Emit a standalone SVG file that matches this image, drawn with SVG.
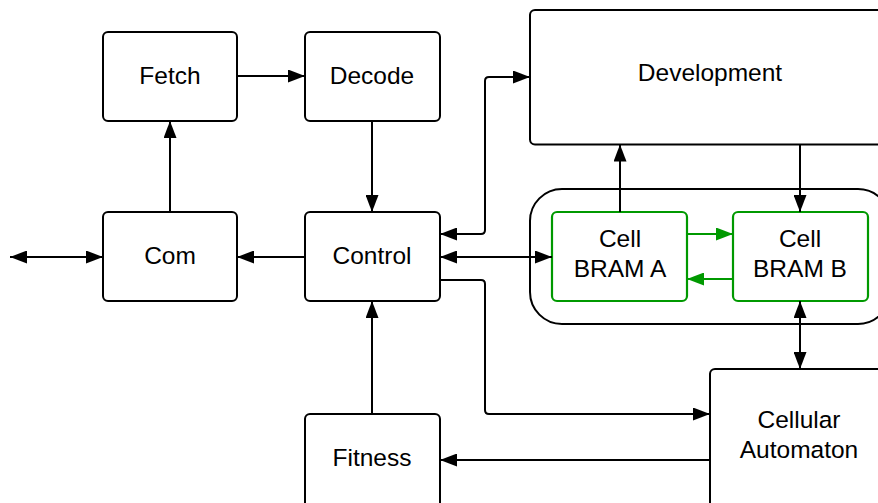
<svg xmlns="http://www.w3.org/2000/svg" width="878" height="503" viewBox="0 0 878 503">
  <defs>
    <marker id="arrow" viewBox="0 0 17 13" refX="17" refY="6.5" markerWidth="17" markerHeight="13" markerUnits="userSpaceOnUse" orient="auto-start-reverse">
      <path d="M0,0 L17,6.5 L0,13 z" fill="#000"/>
    </marker>
    <marker id="arrow-green" viewBox="0 0 17 13" refX="17" refY="6.5" markerWidth="17" markerHeight="13" markerUnits="userSpaceOnUse" orient="auto-start-reverse">
      <path d="M0,0 L17,6.5 L0,13 z" fill="#009900"/>
    </marker>
  </defs>
  <style>
    .box { fill: #fff; stroke: #000; stroke-width: 2; }
    .gbox { fill: #fff; stroke: #009900; stroke-width: 2.2; }
    .label { font-family: "Liberation Sans", Arial, sans-serif; font-size: 24.5px; fill: #000; text-anchor: middle; dominant-baseline: central; }
    .wire { fill: none; stroke: #000; stroke-width: 2; }
    .gwire { fill: none; stroke: #009900; stroke-width: 2; }
  </style>
  <rect width="878" height="503" fill="#fff"/>

  <!-- grouping frame around the two cell memories -->
  <g id="cell-memory-frame">
    <rect class="box" x="530" y="189" width="360" height="135" rx="32"/>
  </g>

  <g id="fetch">
    <rect class="box" x="103" y="32" width="134" height="89" rx="5"/>
    <text class="label" x="170" y="75">Fetch</text>
  </g>
  <g id="decode">
    <rect class="box" x="305" y="32" width="135" height="89" rx="5"/>
    <text class="label" x="372" y="75">Decode</text>
  </g>
  <g id="development">
    <rect class="box" x="530" y="10" width="360" height="134.5" rx="5"/>
    <text class="label" x="710" y="72">Development</text>
  </g>
  <g id="com">
    <rect class="box" x="103" y="212" width="134" height="89" rx="5"/>
    <text class="label" x="170" y="255">Com</text>
  </g>
  <g id="control">
    <rect class="box" x="305" y="212" width="135" height="89" rx="5"/>
    <text class="label" x="372" y="255">Control</text>
  </g>
  <g id="cell-bram-a">
    <rect class="gbox" x="552" y="212" width="135" height="89" rx="5"/>
    <text class="label" x="620" y="238">Cell</text>
    <text class="label" x="620" y="268">BRAM A</text>
  </g>
  <g id="cell-bram-b">
    <rect class="gbox" x="733" y="212" width="135" height="89" rx="5"/>
    <text class="label" x="800" y="238">Cell</text>
    <text class="label" x="800" y="268">BRAM B</text>
  </g>
  <g id="cellular-automaton">
    <rect class="box" x="710" y="369" width="180" height="150" rx="5"/>
    <text class="label" x="799" y="419">Cellular</text>
    <text class="label" x="799" y="449">Automaton</text>
  </g>
  <g id="fitness">
    <rect class="box" x="305" y="414" width="135" height="100" rx="5"/>
    <text class="label" x="372" y="457">Fitness</text>
  </g>

  <g id="connectors">
    <path class="wire" d="M237,76 H305" marker-end="url(#arrow)"/>
    <path class="wire" d="M170,212 V121" marker-end="url(#arrow)"/>
    <path class="wire" d="M372,121 V212" marker-end="url(#arrow)"/>
    <path class="wire" d="M305,257 H237" marker-end="url(#arrow)"/>
    <path class="wire" d="M10,257 H103" marker-start="url(#arrow)" marker-end="url(#arrow)"/>
    <path class="wire" d="M440,257 H552" marker-start="url(#arrow)" marker-end="url(#arrow)"/>
    <path class="wire" d="M440,234 H481 Q485,234 485,230 V81 Q485,77 489,77 H530" marker-start="url(#arrow)" marker-end="url(#arrow)"/>
    <path class="wire" d="M440,280 H481 Q485,280 485,284 V410 Q485,414 489,414 H710" marker-end="url(#arrow)"/>
    <path class="wire" d="M710,460 H440" marker-end="url(#arrow)"/>
    <path class="wire" d="M372,414 V301" marker-end="url(#arrow)"/>
    <path class="wire" d="M620,212 V144.5" marker-end="url(#arrow)"/>
    <path class="wire" d="M800,144.5 V212" marker-end="url(#arrow)"/>
    <path class="wire" d="M800,301 V369" marker-start="url(#arrow)" marker-end="url(#arrow)"/>
    <path class="gwire" d="M687,234 H733" marker-end="url(#arrow-green)"/>
    <path class="gwire" d="M733,279 H687" marker-end="url(#arrow-green)"/>
  </g>
</svg>
